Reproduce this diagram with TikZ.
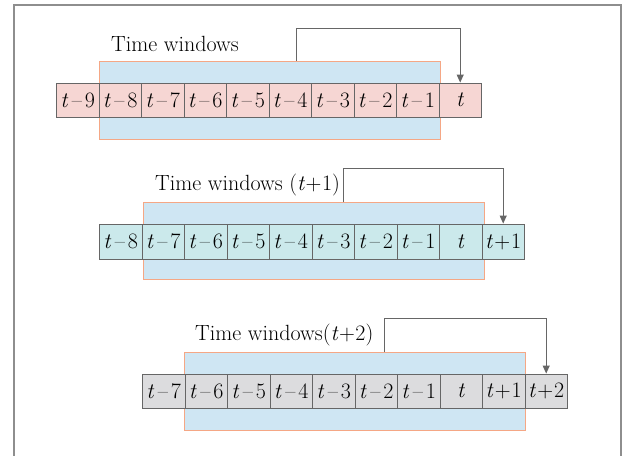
\documentclass[tikz,border=0pt]{standalone}
\usetikzlibrary{arrows.meta}
\definecolor{cellpink}{HTML}{F6D6D3}
\definecolor{cellteal}{HTML}{CBE9EB}
\definecolor{cellgray}{HTML}{DCDCDE}
\definecolor{winblue}{HTML}{CFE6F3}
\definecolor{winorange}{HTML}{F5A785}
\definecolor{linegray}{HTML}{666666}
\definecolor{framegray}{HTML}{8E8E8E}
\newcommand{\mn}[1]{\textit{t}\kern3.5pt--\kern3pt#1}
\newcommand{\pl}[1]{\textit{t}\kern1pt+\kern1pt#1}
\newcommand{\plw}[1]{\textit{t}\kern0.5pt+\kern0.5pt#1}
\begin{document}
\begin{tikzpicture}[x=1pt,y=-1pt,
  cellbox/.style={draw=linegray,line width=0.9pt,minimum width=42.5pt,minimum height=34pt,inner sep=0pt,anchor=west,font=\fontsize{22}{24}\selectfont},
  winbox/.style={draw=winorange,fill=winblue,line width=1pt,inner sep=0pt,anchor=north west},
  lbl/.style={font=\fontsize{22}{24}\selectfont,inner sep=0pt},
  arr/.style={draw=linegray,line width=1pt,-{Triangle[length=8pt,width=7pt]}}]
\useasboundingbox (0,0) rectangle (626,455);
\fill[white] (0,0) rectangle (626,455);
\draw[framegray,line width=1.2pt] (14,456) -- (14,5) -- (621,5) -- (621,456);
% row 1
\node[winbox,minimum width=341pt,minimum height=78pt] (win1) at (99,61) {};
\foreach \l [count=\i] in {\mn9,\mn8,\mn7,\mn6,\mn5,\mn4,\mn3,\mn2,\mn1,\textit{t}}
  \node[cellbox,fill=cellpink] (ra\i) at ({56+42.5*(\i-1)},100) {\l};
\node[lbl,anchor=west] (l1) at (111,44) {Time windows};
\coordinate (s1) at (296,61);
\coordinate (a1) at (296,28);
\draw[arr] (s1) -- (a1) -| (ra10.north);
% row 2
\node[winbox,minimum width=341pt,minimum height=77pt] (win2) at (143,202) {};
\foreach \l [count=\i] in {\mn8,\mn7,\mn6,\mn5,\mn4,\mn3,\mn2,\mn1,\textit{t},\pl1}
  \node[cellbox,fill=cellteal,minimum height=35pt] (rb\i) at ({99+42.5*(\i-1)},241.5) {\l};
\node[lbl,anchor=west] (l2) at (155,185) {Time windows (\plw1)};
\coordinate (s2) at (343,202);
\coordinate (a2) at (343,168);
\draw[arr] (s2) -- (a2) -| (rb10.north);
% row 3
\node[winbox,minimum width=341pt,minimum height=78pt] (win3) at (184,352) {};
\foreach \l [count=\i] in {\mn7,\mn6,\mn5,\mn4,\mn3,\mn2,\mn1,\textit{t},\pl1,\pl2}
  \node[cellbox,fill=cellgray] (rc\i) at ({142+42.5*(\i-1)},391) {\l};
\node[lbl,anchor=west] (l3) at (195,335) {Time windows(\plw2)};
\coordinate (s3) at (384,352);
\coordinate (a3) at (384,318);
\draw[arr] (s3) -- (a3) -| (rc10.north);
\end{tikzpicture}
\end{document}
